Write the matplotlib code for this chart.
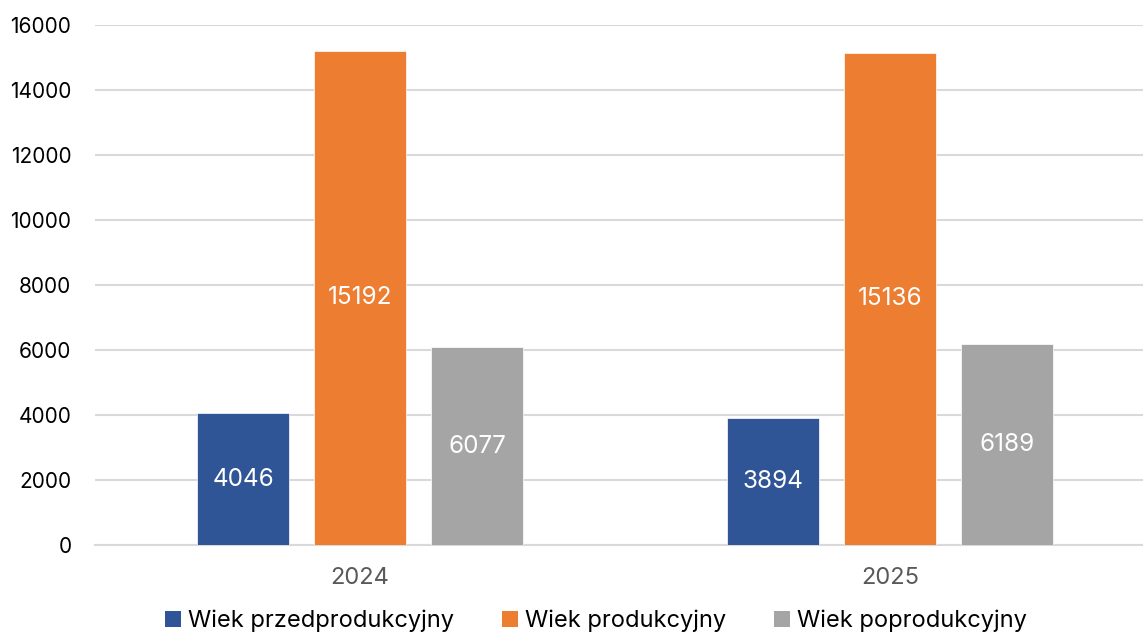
import matplotlib
matplotlib.use("Agg")
import matplotlib.pyplot as plt
import numpy as np
from matplotlib.patches import Patch

plt.rcParams['font.family'] = ['Inter', 'DejaVu Sans']

years = ["2024", "2025"]
series_names = ["Wiek przedprodukcyjny", "Wiek produkcyjny", "Wiek poprodukcyjny"]
przed = [4046, 3894]
prod = [15192, 15136]
popr = [6077, 6189]
colors = ["#2F5597", "#ED7D31", "#A5A5A5"]
yticks = [0, 2000, 4000, 6000, 8000, 10000, 12000, 14000, 16000]

fig = plt.figure(figsize=(11.43, 6.34), dpi=100)
ax = fig.add_axes([95/1143, 1-545/634, 1-95/1143, (545-24.7)/634])

x = np.arange(len(years))
width = 92/530
step = 117/530
for i, (vals, c) in enumerate(zip([przed, prod, popr], colors)):
    bars = ax.bar(x + (i-1)*step, vals, width, color=c, edgecolor='white', linewidth=0.5, zorder=3)
    for b, v in zip(bars, vals):
        ax.text(b.get_x()+b.get_width()/2, v/2, str(v), ha='center', va='center',
                color='white', fontsize=17.5, zorder=4)

ax.set_xlim(-0.5, -0.5 + 1048/530)
ax.set_ylim(0, 16000)
ax.set_yticks(yticks)
ax.set_yticklabels([str(t) for t in yticks], fontsize=15, color='black')
ax.set_xticks(x)
ax.set_xticklabels(years, fontsize=17, color='#595959')
ax.tick_params(axis='y', length=0, pad=17)
ax.tick_params(axis='x', length=0, pad=16)
ax.grid(axis='y', color='#D9D9D9', linewidth=1.5, zorder=0)
for s in ['top', 'right', 'left']:
    ax.spines[s].set_visible(False)
ax.spines['bottom'].set_color('#D9D9D9')
ax.spines['bottom'].set_linewidth(1.5)

handles = [Patch(facecolor=c, edgecolor='none') for c in colors]
fig.legend(handles, series_names, loc='center', bbox_to_anchor=(596/1143, 1-621/634),
           ncol=3, frameon=False, fontsize=17, handlelength=0.7, handleheight=0.7,
           handletextpad=0.3, columnspacing=2.0)

fig.savefig("out.png", dpi=100)
